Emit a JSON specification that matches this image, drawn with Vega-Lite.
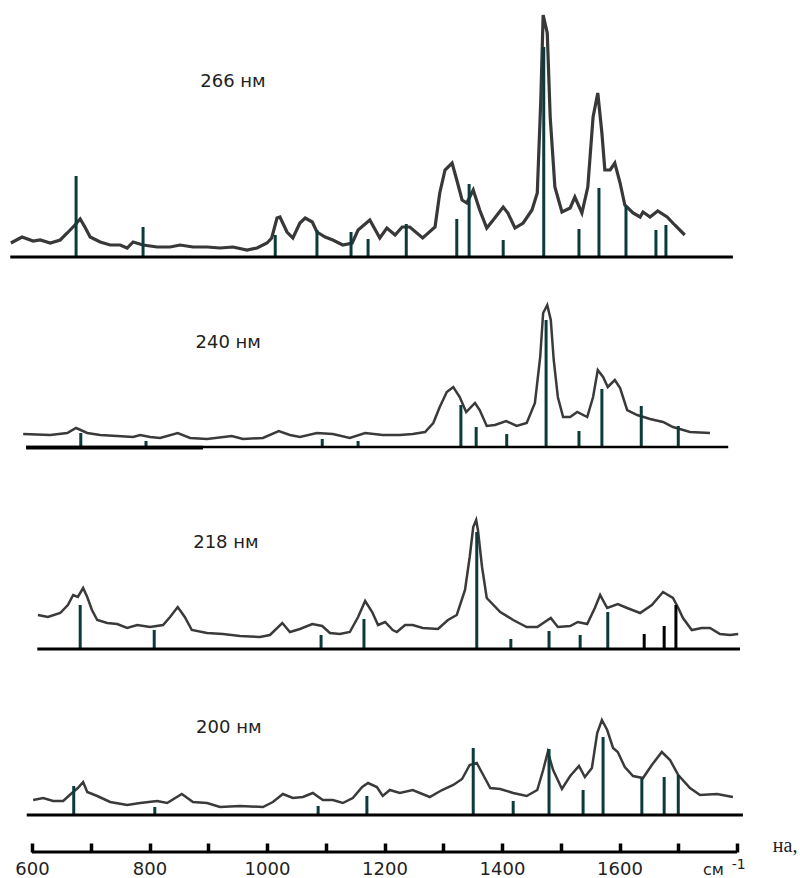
{
  "$schema": "https://vega.github.io/schema/vega-lite/v6.json",
  "width": 800,
  "height": 878,
  "autosize": {"type": "fit", "contains": "padding"},
  "padding": 0,
  "background": "white",
  "config": {
    "view": {"stroke": null},
    "axisX": {"domain": false, "grid": false, "ticks": true, "tickSize": -9, "tickWidth": 3.5, "tickColor": "#000000",
              "labelFont": "DejaVu Sans", "labelFontSize": 18, "labelColor": "#222222", "labelPadding": 17,
              "labelBaseline": "top", "labelFlush": false, "labelOverlap": false, "offset": -26}
  },
  "datasets": {
    "spectra": [
      {"p":"266","v":564,"h":14},{"p":"266","v":583,"h":20},{"p":"266","v":602,"h":16},{"p":"266","v":614,"h":17},{"p":"266","v":631,"h":14},{"p":"266","v":648,"h":17},{"p":"266","v":660,"h":24},{"p":"266","v":673,"h":32},{"p":"266","v":682,"h":38},{"p":"266","v":690,"h":30},{"p":"266","v":699,"h":20},{"p":"266","v":716,"h":15},{"p":"266","v":733,"h":12},{"p":"266","v":750,"h":12},{"p":"266","v":762,"h":9},{"p":"266","v":772,"h":15},{"p":"266","v":789,"h":12},{"p":"266","v":813,"h":10},{"p":"266","v":835,"h":10},{"p":"266","v":852,"h":12},{"p":"266","v":874,"h":10},{"p":"266","v":898,"h":10},{"p":"266","v":920,"h":9},{"p":"266","v":942,"h":10},{"p":"266","v":966,"h":7},{"p":"266","v":983,"h":9},{"p":"266","v":1000,"h":14},{"p":"266","v":1008,"h":19},{"p":"266","v":1017,"h":39},{"p":"266","v":1022,"h":40},{"p":"266","v":1034,"h":25},{"p":"266","v":1044,"h":19},{"p":"266","v":1056,"h":34},{"p":"266","v":1065,"h":39},{"p":"266","v":1077,"h":35},{"p":"266","v":1085,"h":25},{"p":"266","v":1099,"h":20},{"p":"266","v":1112,"h":17},{"p":"266","v":1129,"h":12},{"p":"266","v":1145,"h":14},{"p":"266","v":1155,"h":27},{"p":"266","v":1175,"h":37},{"p":"266","v":1192,"h":19},{"p":"266","v":1204,"h":29},{"p":"266","v":1218,"h":22},{"p":"266","v":1230,"h":30},{"p":"266","v":1243,"h":30},{"p":"266","v":1265,"h":19},{"p":"266","v":1286,"h":30},{"p":"266","v":1294,"h":64},{"p":"266","v":1303,"h":87},{"p":"266","v":1315,"h":94},{"p":"266","v":1323,"h":77},{"p":"266","v":1332,"h":57},{"p":"266","v":1340,"h":54},{"p":"266","v":1351,"h":67},{"p":"266","v":1362,"h":47},{"p":"266","v":1374,"h":29},{"p":"266","v":1385,"h":37},{"p":"266","v":1402,"h":50},{"p":"266","v":1410,"h":44},{"p":"266","v":1422,"h":29},{"p":"266","v":1436,"h":34},{"p":"266","v":1451,"h":47},{"p":"266","v":1460,"h":64},{"p":"266","v":1466,"h":157},{"p":"266","v":1470,"h":242},{"p":"266","v":1477,"h":224},{"p":"266","v":1482,"h":140},{"p":"266","v":1490,"h":70},{"p":"266","v":1502,"h":45},{"p":"266","v":1516,"h":49},{"p":"266","v":1524,"h":60},{"p":"266","v":1536,"h":44},{"p":"266","v":1546,"h":70},{"p":"266","v":1555,"h":140},{"p":"266","v":1563,"h":164},{"p":"266","v":1570,"h":124},{"p":"266","v":1575,"h":87},{"p":"266","v":1584,"h":87},{"p":"266","v":1592,"h":94},{"p":"266","v":1601,"h":74},{"p":"266","v":1609,"h":52},{"p":"266","v":1623,"h":44},{"p":"266","v":1635,"h":40},{"p":"266","v":1640,"h":45},{"p":"266","v":1652,"h":40},{"p":"266","v":1665,"h":46},{"p":"266","v":1681,"h":40},{"p":"266","v":1694,"h":32},{"p":"266","v":1711,"h":22},
      {"p":"240","v":585,"h":13},{"p":"240","v":631,"h":12},{"p":"240","v":660,"h":14},{"p":"240","v":675,"h":19},{"p":"240","v":694,"h":14},{"p":"240","v":716,"h":12},{"p":"240","v":745,"h":11},{"p":"240","v":772,"h":10},{"p":"240","v":784,"h":12},{"p":"240","v":801,"h":10},{"p":"240","v":818,"h":9},{"p":"240","v":848,"h":14},{"p":"240","v":869,"h":9},{"p":"240","v":898,"h":8},{"p":"240","v":940,"h":11},{"p":"240","v":959,"h":8},{"p":"240","v":993,"h":9},{"p":"240","v":1020,"h":16},{"p":"240","v":1039,"h":12},{"p":"240","v":1056,"h":10},{"p":"240","v":1085,"h":14},{"p":"240","v":1112,"h":13},{"p":"240","v":1141,"h":9},{"p":"240","v":1167,"h":14},{"p":"240","v":1197,"h":12},{"p":"240","v":1226,"h":12},{"p":"240","v":1248,"h":13},{"p":"240","v":1269,"h":15},{"p":"240","v":1283,"h":24},{"p":"240","v":1294,"h":40},{"p":"240","v":1306,"h":55},{"p":"240","v":1317,"h":60},{"p":"240","v":1328,"h":50},{"p":"240","v":1339,"h":35},{"p":"240","v":1354,"h":44},{"p":"240","v":1362,"h":37},{"p":"240","v":1374,"h":21},{"p":"240","v":1388,"h":22},{"p":"240","v":1407,"h":26},{"p":"240","v":1425,"h":21},{"p":"240","v":1442,"h":24},{"p":"240","v":1456,"h":44},{"p":"240","v":1465,"h":90},{"p":"240","v":1470,"h":134},{"p":"240","v":1477,"h":142},{"p":"240","v":1483,"h":127},{"p":"240","v":1488,"h":87},{"p":"240","v":1495,"h":50},{"p":"240","v":1504,"h":30},{"p":"240","v":1516,"h":30},{"p":"240","v":1528,"h":35},{"p":"240","v":1545,"h":30},{"p":"240","v":1555,"h":50},{"p":"240","v":1563,"h":77},{"p":"240","v":1572,"h":70},{"p":"240","v":1580,"h":60},{"p":"240","v":1592,"h":67},{"p":"240","v":1601,"h":59},{"p":"240","v":1613,"h":37},{"p":"240","v":1630,"h":32},{"p":"240","v":1652,"h":28},{"p":"240","v":1674,"h":25},{"p":"240","v":1691,"h":20},{"p":"240","v":1720,"h":15},{"p":"240","v":1754,"h":14},
      {"p":"218","v":610,"h":34},{"p":"218","v":627,"h":32},{"p":"218","v":648,"h":36},{"p":"218","v":661,"h":44},{"p":"218","v":670,"h":54},{"p":"218","v":678,"h":52},{"p":"218","v":687,"h":61},{"p":"218","v":694,"h":52},{"p":"218","v":702,"h":39},{"p":"218","v":711,"h":29},{"p":"218","v":728,"h":26},{"p":"218","v":745,"h":25},{"p":"218","v":762,"h":21},{"p":"218","v":779,"h":24},{"p":"218","v":801,"h":22},{"p":"218","v":823,"h":24},{"p":"218","v":835,"h":32},{"p":"218","v":848,"h":42},{"p":"218","v":860,"h":32},{"p":"218","v":872,"h":19},{"p":"218","v":898,"h":16},{"p":"218","v":925,"h":15},{"p":"218","v":954,"h":13},{"p":"218","v":988,"h":12},{"p":"218","v":1005,"h":14},{"p":"218","v":1026,"h":26},{"p":"218","v":1039,"h":17},{"p":"218","v":1056,"h":20},{"p":"218","v":1077,"h":25},{"p":"218","v":1094,"h":23},{"p":"218","v":1107,"h":16},{"p":"218","v":1124,"h":15},{"p":"218","v":1141,"h":17},{"p":"218","v":1155,"h":32},{"p":"218","v":1167,"h":48},{"p":"218","v":1179,"h":37},{"p":"218","v":1189,"h":24},{"p":"218","v":1201,"h":27},{"p":"218","v":1214,"h":19},{"p":"218","v":1221,"h":17},{"p":"218","v":1235,"h":24},{"p":"218","v":1248,"h":24},{"p":"218","v":1265,"h":21},{"p":"218","v":1291,"h":20},{"p":"218","v":1308,"h":29},{"p":"218","v":1323,"h":34},{"p":"218","v":1337,"h":59},{"p":"218","v":1345,"h":92},{"p":"218","v":1351,"h":122},{"p":"218","v":1356,"h":129},{"p":"218","v":1359,"h":119},{"p":"218","v":1366,"h":82},{"p":"218","v":1374,"h":51},{"p":"218","v":1397,"h":37},{"p":"218","v":1419,"h":29},{"p":"218","v":1442,"h":22},{"p":"218","v":1460,"h":22},{"p":"218","v":1483,"h":31},{"p":"218","v":1495,"h":22},{"p":"218","v":1516,"h":23},{"p":"218","v":1529,"h":27},{"p":"218","v":1545,"h":25},{"p":"218","v":1558,"h":41},{"p":"218","v":1567,"h":54},{"p":"218","v":1579,"h":41},{"p":"218","v":1597,"h":45},{"p":"218","v":1613,"h":41},{"p":"218","v":1635,"h":36},{"p":"218","v":1655,"h":44},{"p":"218","v":1674,"h":57},{"p":"218","v":1691,"h":51},{"p":"218","v":1700,"h":41},{"p":"218","v":1708,"h":31},{"p":"218","v":1723,"h":19},{"p":"218","v":1740,"h":21},{"p":"218","v":1754,"h":21},{"p":"218","v":1771,"h":15},{"p":"218","v":1788,"h":14},{"p":"218","v":1802,"h":15},
      {"p":"200","v":602,"h":15},{"p":"200","v":619,"h":17},{"p":"200","v":636,"h":14},{"p":"200","v":653,"h":14},{"p":"200","v":668,"h":22},{"p":"200","v":678,"h":27},{"p":"200","v":687,"h":33},{"p":"200","v":694,"h":23},{"p":"200","v":711,"h":19},{"p":"200","v":733,"h":13},{"p":"200","v":762,"h":10},{"p":"200","v":784,"h":12},{"p":"200","v":813,"h":14},{"p":"200","v":830,"h":12},{"p":"200","v":855,"h":21},{"p":"200","v":874,"h":13},{"p":"200","v":898,"h":12},{"p":"200","v":920,"h":8},{"p":"200","v":954,"h":9},{"p":"200","v":993,"h":8},{"p":"200","v":1010,"h":13},{"p":"200","v":1027,"h":21},{"p":"200","v":1044,"h":17},{"p":"200","v":1061,"h":18},{"p":"200","v":1078,"h":22},{"p":"200","v":1095,"h":15},{"p":"200","v":1112,"h":15},{"p":"200","v":1129,"h":12},{"p":"200","v":1146,"h":17},{"p":"200","v":1162,"h":28},{"p":"200","v":1172,"h":32},{"p":"200","v":1187,"h":28},{"p":"200","v":1197,"h":19},{"p":"200","v":1209,"h":25},{"p":"200","v":1226,"h":22},{"p":"200","v":1248,"h":25},{"p":"200","v":1277,"h":18},{"p":"200","v":1298,"h":25},{"p":"200","v":1317,"h":30},{"p":"200","v":1332,"h":36},{"p":"200","v":1345,"h":50},{"p":"200","v":1357,"h":52},{"p":"200","v":1368,"h":40},{"p":"200","v":1380,"h":27},{"p":"200","v":1397,"h":26},{"p":"200","v":1419,"h":22},{"p":"200","v":1442,"h":19},{"p":"200","v":1460,"h":25},{"p":"200","v":1470,"h":45},{"p":"200","v":1478,"h":63},{"p":"200","v":1487,"h":45},{"p":"200","v":1502,"h":26},{"p":"200","v":1516,"h":39},{"p":"200","v":1531,"h":49},{"p":"200","v":1541,"h":38},{"p":"200","v":1553,"h":47},{"p":"200","v":1562,"h":82},{"p":"200","v":1570,"h":95},{"p":"200","v":1579,"h":85},{"p":"200","v":1589,"h":67},{"p":"200","v":1597,"h":63},{"p":"200","v":1609,"h":48},{"p":"200","v":1623,"h":39},{"p":"200","v":1640,"h":37},{"p":"200","v":1655,"h":50},{"p":"200","v":1672,"h":63},{"p":"200","v":1686,"h":55},{"p":"200","v":1700,"h":40},{"p":"200","v":1720,"h":27},{"p":"200","v":1737,"h":20},{"p":"200","v":1766,"h":21},{"p":"200","v":1793,"h":18}
    ],
    "bars": [
      {"p":"266","v":675,"h":81,"set":"a"},{"p":"266","v":789,"h":30,"set":"a"},{"p":"266","v":1014,"h":22,"set":"a"},{"p":"266","v":1085,"h":27,"set":"a"},{"p":"266","v":1143,"h":25,"set":"a"},{"p":"266","v":1172,"h":18,"set":"a"},{"p":"266","v":1237,"h":33,"set":"a"},{"p":"266","v":1323,"h":38,"set":"a"},{"p":"266","v":1344,"h":73,"set":"a"},{"p":"266","v":1402,"h":17,"set":"a"},{"p":"266","v":1471,"h":210,"set":"a"},{"p":"266","v":1531,"h":28,"set":"a"},{"p":"266","v":1565,"h":69,"set":"a"},{"p":"266","v":1611,"h":51,"set":"a"},{"p":"266","v":1662,"h":27,"set":"a"},{"p":"266","v":1679,"h":32,"set":"a"},
      {"p":"240","v":683,"h":14,"set":"a"},{"p":"240","v":794,"h":6,"set":"a"},{"p":"240","v":1094,"h":8,"set":"a"},{"p":"240","v":1155,"h":6,"set":"a"},{"p":"240","v":1330,"h":42,"set":"a"},{"p":"240","v":1356,"h":20,"set":"a"},{"p":"240","v":1408,"h":13,"set":"a"},{"p":"240","v":1475,"h":127,"set":"a"},{"p":"240","v":1531,"h":16,"set":"a"},{"p":"240","v":1570,"h":58,"set":"a"},{"p":"240","v":1637,"h":41,"set":"a"},{"p":"240","v":1700,"h":21,"set":"a"},
      {"p":"218","v":682,"h":44,"set":"a"},{"p":"218","v":808,"h":19,"set":"a"},{"p":"218","v":1092,"h":14,"set":"a"},{"p":"218","v":1165,"h":30,"set":"a"},{"p":"218","v":1357,"h":117,"set":"a"},{"p":"218","v":1415,"h":10,"set":"a"},{"p":"218","v":1480,"h":18,"set":"a"},{"p":"218","v":1533,"h":14,"set":"a"},{"p":"218","v":1580,"h":37,"set":"a"},{"p":"218","v":1642,"h":15,"set":"b"},{"p":"218","v":1676,"h":23,"set":"b"},{"p":"218","v":1696,"h":44,"set":"b"},
      {"p":"200","v":671,"h":29,"set":"a"},{"p":"200","v":809,"h":8,"set":"a"},{"p":"200","v":1087,"h":9,"set":"a"},{"p":"200","v":1170,"h":19,"set":"a"},{"p":"200","v":1351,"h":67,"set":"a"},{"p":"200","v":1419,"h":14,"set":"a"},{"p":"200","v":1480,"h":66,"set":"a"},{"p":"200","v":1538,"h":25,"set":"a"},{"p":"200","v":1572,"h":78,"set":"a"},{"p":"200","v":1638,"h":37,"set":"a"},{"p":"200","v":1676,"h":38,"set":"a"},{"p":"200","v":1700,"h":40,"set":"a"}
    ],
    "base": [
      {"p":"266","v1":563,"v2":1793,"h":0},
      {"p":"240","v1":590,"v2":1785,"h":0},
      {"p":"218","v1":609,"v2":1805,"h":0},
      {"p":"200","v1":591,"v2":1810,"h":0},
      {"p":"200","v1":600,"v2":1800,"h":-37}
    ],
    "labels": [
      {"p":"266","v":942,"h":175,"label":"266 нм"},
      {"p":"240","v":934,"h":104,"label":"240 нм"},
      {"p":"218","v":930,"h":106,"label":"218 нм"},
      {"p":"200","v":935,"h":87,"label":"200 нм"}
    ]
  },
  "resolve": {"scale": {"y": "independent"}},
  "layer": [
    {
      "layer": [
        {"data": {"name": "spectra"}, "transform": [{"filter": "datum.p == '266'"}],
         "mark": {"type": "line", "color": "#383838", "strokeWidth": 3.2},
         "encoding": {"x": {"field": "v", "type": "quantitative", "scale": {"domain": [545.5, 1907.2], "nice": false, "zero": false},
                            "axis": {"values": [600, 700, 800, 900, 1000, 1100, 1200, 1300, 1400, 1500, 1600, 1700, 1800], "labelExpr": "datum.value % 200 == 0 && datum.value <= 1600 ? datum.label : ''", "format": "d", "title": null}},
                      "y": {"field": "h", "type": "quantitative", "scale": {"domain": [-621, 257], "nice": false, "zero": false}, "axis": null}}},
        {"data": {"name": "bars"}, "transform": [{"filter": "datum.p == '266'"}],
         "mark": {"type": "rule", "strokeWidth": 3},
         "encoding": {"x": {"field": "v", "type": "quantitative", "axis": {"values": [600, 700, 800, 900, 1000, 1100, 1200, 1300, 1400, 1500, 1600, 1700, 1800], "labelExpr": "datum.value % 200 == 0 && datum.value <= 1600 ? datum.label : ''", "format": "d", "title": null}},
                      "y": {"field": "h", "type": "quantitative", "scale": {"domain": [-621, 257], "nice": false, "zero": false}, "axis": null},
                      "y2": {"datum": 0},
                      "color": {"field": "set", "type": "nominal", "scale": {"domain": ["a", "b"], "range": ["#0b3b3b", "#000000"]}, "legend": null}}},
        {"data": {"name": "base"}, "transform": [{"filter": "datum.p == '266'"}],
         "mark": {"type": "rule", "strokeWidth": 3, "color": "#000000"},
         "encoding": {"x": {"field": "v1", "type": "quantitative", "axis": {"values": [600, 700, 800, 900, 1000, 1100, 1200, 1300, 1400, 1500, 1600, 1700, 1800], "labelExpr": "datum.value % 200 == 0 && datum.value <= 1600 ? datum.label : ''", "format": "d", "title": null}}, "x2": {"field": "v2"},
                      "y": {"field": "h", "type": "quantitative", "scale": {"domain": [-621, 257], "nice": false, "zero": false}, "axis": null}}},
        {"data": {"name": "labels"}, "transform": [{"filter": "datum.p == '266'"}],
         "mark": {"type": "text", "font": "DejaVu Sans", "fontSize": 18, "color": "#222222", "align": "center", "baseline": "middle"},
         "encoding": {"x": {"field": "v", "type": "quantitative", "axis": {"values": [600, 700, 800, 900, 1000, 1100, 1200, 1300, 1400, 1500, 1600, 1700, 1800], "labelExpr": "datum.value % 200 == 0 && datum.value <= 1600 ? datum.label : ''", "format": "d", "title": null}},
                      "y": {"field": "h", "type": "quantitative", "scale": {"domain": [-621, 257], "nice": false, "zero": false}, "axis": null},
                      "text": {"field": "label"}}}
      ]
    },
    {
      "layer": [
        {"data": {"name": "spectra"}, "transform": [{"filter": "datum.p == '240'"}],
         "mark": {"type": "line", "color": "#3a3a3a", "strokeWidth": 2.5},
         "encoding": {"x": {"field": "v", "type": "quantitative", "axis": {"values": [600, 700, 800, 900, 1000, 1100, 1200, 1300, 1400, 1500, 1600, 1700, 1800], "labelExpr": "datum.value % 200 == 0 && datum.value <= 1600 ? datum.label : ''", "format": "d", "title": null}},
                      "y": {"field": "h", "type": "quantitative", "scale": {"domain": [-431, 447], "nice": false, "zero": false}, "axis": null}}},
        {"data": {"name": "bars"}, "transform": [{"filter": "datum.p == '240'"}],
         "mark": {"type": "rule", "strokeWidth": 3},
         "encoding": {"x": {"field": "v", "type": "quantitative", "axis": {"values": [600, 700, 800, 900, 1000, 1100, 1200, 1300, 1400, 1500, 1600, 1700, 1800], "labelExpr": "datum.value % 200 == 0 && datum.value <= 1600 ? datum.label : ''", "format": "d", "title": null}},
                      "y": {"field": "h", "type": "quantitative", "scale": {"domain": [-431, 447], "nice": false, "zero": false}, "axis": null},
                      "y2": {"datum": 0},
                      "color": {"field": "set", "type": "nominal", "legend": null}}},
        {"data": {"name": "base"}, "transform": [{"filter": "datum.p == '240'"}],
         "mark": {"type": "rule", "strokeWidth": 2.6, "color": "#000000"},
         "encoding": {"x": {"field": "v1", "type": "quantitative", "axis": {"values": [600, 700, 800, 900, 1000, 1100, 1200, 1300, 1400, 1500, 1600, 1700, 1800], "labelExpr": "datum.value % 200 == 0 && datum.value <= 1600 ? datum.label : ''", "format": "d", "title": null}}, "x2": {"field": "v2"},
                      "y": {"field": "h", "type": "quantitative", "scale": {"domain": [-431, 447], "nice": false, "zero": false}, "axis": null}}},
        {"data": {"values": [{"v1": 590, "v2": 891, "h": -0.7}]},
         "mark": {"type": "rule", "strokeWidth": 3.8, "color": "#000000"},
         "encoding": {"x": {"field": "v1", "type": "quantitative", "axis": {"values": [600, 700, 800, 900, 1000, 1100, 1200, 1300, 1400, 1500, 1600, 1700, 1800], "labelExpr": "datum.value % 200 == 0 && datum.value <= 1600 ? datum.label : ''", "format": "d", "title": null}}, "x2": {"field": "v2"},
                      "y": {"field": "h", "type": "quantitative", "scale": {"domain": [-431, 447], "nice": false, "zero": false}, "axis": null}}},
        {"data": {"name": "labels"}, "transform": [{"filter": "datum.p == '240'"}],
         "mark": {"type": "text", "font": "DejaVu Sans", "fontSize": 18, "color": "#222222", "align": "center", "baseline": "middle"},
         "encoding": {"x": {"field": "v", "type": "quantitative", "axis": {"values": [600, 700, 800, 900, 1000, 1100, 1200, 1300, 1400, 1500, 1600, 1700, 1800], "labelExpr": "datum.value % 200 == 0 && datum.value <= 1600 ? datum.label : ''", "format": "d", "title": null}},
                      "y": {"field": "h", "type": "quantitative", "scale": {"domain": [-431, 447], "nice": false, "zero": false}, "axis": null},
                      "text": {"field": "label"}}}
      ]
    },
    {
      "layer": [
        {"data": {"name": "spectra"}, "transform": [{"filter": "datum.p == '218'"}],
         "mark": {"type": "line", "color": "#3a3a3a", "strokeWidth": 2.5},
         "encoding": {"x": {"field": "v", "type": "quantitative", "axis": {"values": [600, 700, 800, 900, 1000, 1100, 1200, 1300, 1400, 1500, 1600, 1700, 1800], "labelExpr": "datum.value % 200 == 0 && datum.value <= 1600 ? datum.label : ''", "format": "d", "title": null}},
                      "y": {"field": "h", "type": "quantitative", "scale": {"domain": [-229, 649], "nice": false, "zero": false}, "axis": null}}},
        {"data": {"name": "bars"}, "transform": [{"filter": "datum.p == '218'"}],
         "mark": {"type": "rule", "strokeWidth": 3},
         "encoding": {"x": {"field": "v", "type": "quantitative", "axis": {"values": [600, 700, 800, 900, 1000, 1100, 1200, 1300, 1400, 1500, 1600, 1700, 1800], "labelExpr": "datum.value % 200 == 0 && datum.value <= 1600 ? datum.label : ''", "format": "d", "title": null}},
                      "y": {"field": "h", "type": "quantitative", "scale": {"domain": [-229, 649], "nice": false, "zero": false}, "axis": null},
                      "y2": {"datum": 0},
                      "color": {"field": "set", "type": "nominal", "legend": null}}},
        {"data": {"name": "base"}, "transform": [{"filter": "datum.p == '218'"}],
         "mark": {"type": "rule", "strokeWidth": 3, "color": "#000000"},
         "encoding": {"x": {"field": "v1", "type": "quantitative", "axis": {"values": [600, 700, 800, 900, 1000, 1100, 1200, 1300, 1400, 1500, 1600, 1700, 1800], "labelExpr": "datum.value % 200 == 0 && datum.value <= 1600 ? datum.label : ''", "format": "d", "title": null}}, "x2": {"field": "v2"},
                      "y": {"field": "h", "type": "quantitative", "scale": {"domain": [-229, 649], "nice": false, "zero": false}, "axis": null}}},
        {"data": {"name": "labels"}, "transform": [{"filter": "datum.p == '218'"}],
         "mark": {"type": "text", "font": "DejaVu Sans", "fontSize": 18, "color": "#222222", "align": "center", "baseline": "middle"},
         "encoding": {"x": {"field": "v", "type": "quantitative", "axis": {"values": [600, 700, 800, 900, 1000, 1100, 1200, 1300, 1400, 1500, 1600, 1700, 1800], "labelExpr": "datum.value % 200 == 0 && datum.value <= 1600 ? datum.label : ''", "format": "d", "title": null}},
                      "y": {"field": "h", "type": "quantitative", "scale": {"domain": [-229, 649], "nice": false, "zero": false}, "axis": null},
                      "text": {"field": "label"}}}
      ]
    },
    {
      "layer": [
        {"data": {"name": "spectra"}, "transform": [{"filter": "datum.p == '200'"}],
         "mark": {"type": "line", "color": "#3a3a3a", "strokeWidth": 2.5},
         "encoding": {"x": {"field": "v", "type": "quantitative", "axis": {"values": [600, 700, 800, 900, 1000, 1100, 1200, 1300, 1400, 1500, 1600, 1700, 1800], "labelExpr": "datum.value % 200 == 0 && datum.value <= 1600 ? datum.label : ''", "format": "d", "title": null}},
                      "y": {"field": "h", "type": "quantitative", "scale": {"domain": [-63, 815], "nice": false, "zero": false}, "axis": null}}},
        {"data": {"name": "bars"}, "transform": [{"filter": "datum.p == '200'"}],
         "mark": {"type": "rule", "strokeWidth": 3},
         "encoding": {"x": {"field": "v", "type": "quantitative", "axis": {"values": [600, 700, 800, 900, 1000, 1100, 1200, 1300, 1400, 1500, 1600, 1700, 1800], "labelExpr": "datum.value % 200 == 0 && datum.value <= 1600 ? datum.label : ''", "format": "d", "title": null}},
                      "y": {"field": "h", "type": "quantitative", "scale": {"domain": [-63, 815], "nice": false, "zero": false}, "axis": null},
                      "y2": {"datum": 0},
                      "color": {"field": "set", "type": "nominal", "legend": null}}},
        {"data": {"name": "base"}, "transform": [{"filter": "datum.p == '200'"}],
         "mark": {"type": "rule", "strokeWidth": 3.2, "color": "#000000"},
         "encoding": {"x": {"field": "v1", "type": "quantitative", "axis": {"values": [600, 700, 800, 900, 1000, 1100, 1200, 1300, 1400, 1500, 1600, 1700, 1800], "labelExpr": "datum.value % 200 == 0 && datum.value <= 1600 ? datum.label : ''", "format": "d", "title": null}}, "x2": {"field": "v2"},
                      "y": {"field": "h", "type": "quantitative", "scale": {"domain": [-63, 815], "nice": false, "zero": false}, "axis": null}}},
        {"data": {"name": "labels"}, "transform": [{"filter": "datum.p == '200'"}],
         "mark": {"type": "text", "font": "DejaVu Sans", "fontSize": 18, "color": "#222222", "align": "center", "baseline": "middle"},
         "encoding": {"x": {"field": "v", "type": "quantitative", "axis": {"values": [600, 700, 800, 900, 1000, 1100, 1200, 1300, 1400, 1500, 1600, 1700, 1800], "labelExpr": "datum.value % 200 == 0 && datum.value <= 1600 ? datum.label : ''", "format": "d", "title": null}},
                      "y": {"field": "h", "type": "quantitative", "scale": {"domain": [-63, 815], "nice": false, "zero": false}, "axis": null},
                      "text": {"field": "label"}}},
        {"data": {"values": [{"t": "см", "v": 1742, "h": -63}]},
         "mark": {"type": "text", "font": "DejaVu Sans", "fontSize": 16, "color": "#222222", "align": "left", "baseline": "bottom"},
         "encoding": {"x": {"field": "v", "type": "quantitative", "axis": {"values": [600, 700, 800, 900, 1000, 1100, 1200, 1300, 1400, 1500, 1600, 1700, 1800], "labelExpr": "datum.value % 200 == 0 && datum.value <= 1600 ? datum.label : ''", "format": "d", "title": null}},
                      "y": {"field": "h", "type": "quantitative", "scale": {"domain": [-63, 815], "nice": false, "zero": false}, "axis": null},
                      "text": {"field": "t"}}},
        {"data": {"values": [{"t": "-1", "v": 1791, "h": -43}]},
         "mark": {"type": "text", "font": "DejaVu Sans", "fontSize": 14, "color": "#222222", "align": "left", "baseline": "top"},
         "encoding": {"x": {"field": "v", "type": "quantitative", "axis": {"values": [600, 700, 800, 900, 1000, 1100, 1200, 1300, 1400, 1500, 1600, 1700, 1800], "labelExpr": "datum.value % 200 == 0 && datum.value <= 1600 ? datum.label : ''", "format": "d", "title": null}},
                      "y": {"field": "h", "type": "quantitative", "scale": {"domain": [-63, 815], "nice": false, "zero": false}, "axis": null},
                      "text": {"field": "t"}}},
        {"data": {"values": [{"t": "на,", "v": 1861, "h": -37}]},
         "mark": {"type": "text", "font": "Liberation Serif", "fontSize": 20, "color": "#222222", "align": "left", "baseline": "alphabetic"},
         "encoding": {"x": {"field": "v", "type": "quantitative", "axis": {"values": [600, 700, 800, 900, 1000, 1100, 1200, 1300, 1400, 1500, 1600, 1700, 1800], "labelExpr": "datum.value % 200 == 0 && datum.value <= 1600 ? datum.label : ''", "format": "d", "title": null}},
                      "y": {"field": "h", "type": "quantitative", "scale": {"domain": [-63, 815], "nice": false, "zero": false}, "axis": null},
                      "text": {"field": "t"}}}
      ]
    }
  ]
}
